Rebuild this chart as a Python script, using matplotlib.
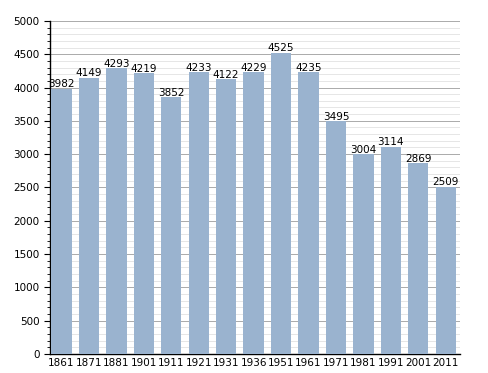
import numpy as np
import matplotlib
matplotlib.use('Agg')
import matplotlib.pyplot as plt
from matplotlib.ticker import MultipleLocator

years = ['1861', '1871', '1881', '1901', '1911', '1921', '1931', '1936',
         '1951', '1961', '1971', '1981', '1991', '2001', '2011']
pop = [3982, 4149, 4293, 4219, 3852, 4233, 4122, 4229,
       4525, 4235, 3495, 3004, 3114, 2869, 2509]

fig = plt.figure(figsize=(4.88, 3.73), dpi=100)
ax = fig.add_axes([0.1025, 0.051, 0.84, 0.893])

x = np.arange(len(years))
ax.bar(x, pop, width=0.74, color='#9ab3cf', zorder=3)
for xi, v in zip(x, pop):
    ax.text(xi, v - 10, str(v), ha='center', va='bottom', fontsize=7.5, zorder=4)

ax.set_xlim(-0.42, len(years) - 0.48)
ax.set_ylim(0, 5000)
ax.set_xticks(x)
ax.set_xticklabels(years, fontsize=7.5)
ax.yaxis.set_major_locator(MultipleLocator(500))
ax.yaxis.set_minor_locator(MultipleLocator(100))
ax.tick_params(axis='y', labelsize=7.5, direction='out', length=4, width=0.8)
ax.tick_params(axis='y', which='minor', length=2.5, width=0.6)
ax.tick_params(axis='x', length=0, pad=3)
ax.grid(axis='y', which='major', color='#aaaaaa', lw=0.7, zorder=0)
ax.grid(axis='y', which='minor', color='#e2e2e2', lw=0.6, zorder=0)
for s in ['top', 'right']:
    ax.spines[s].set_visible(False)
ax.spines['left'].set_linewidth(1.0)
ax.spines['bottom'].set_linewidth(1.0)

fig.savefig('out.png', dpi=100)
